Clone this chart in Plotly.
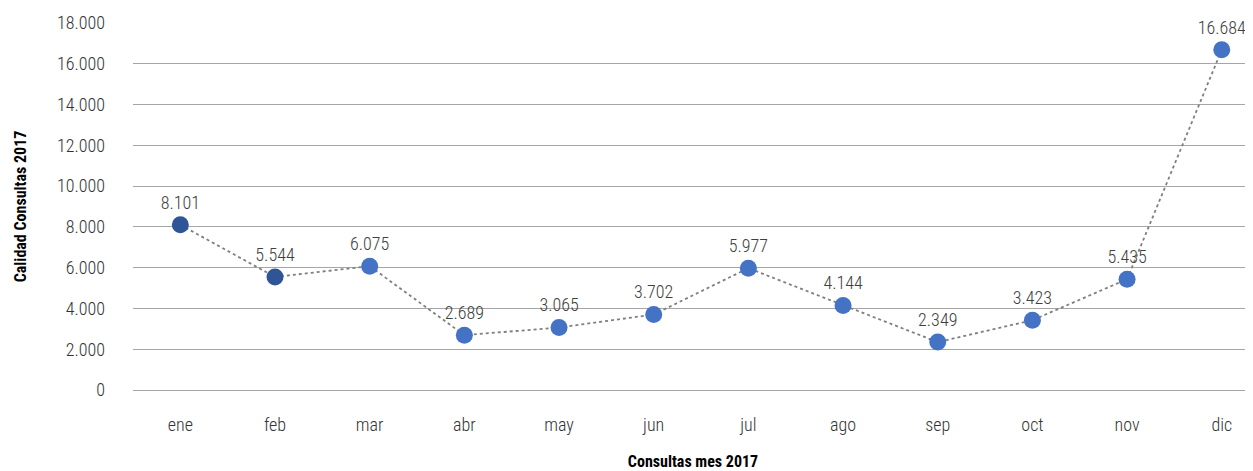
import plotly.graph_objects as go

months = ["ene", "feb", "mar", "abr", "may", "jun", "jul", "ago", "sep", "oct", "nov", "dic"]
values = [8101, 5544, 6075, 2689, 3065, 3702, 5977, 4144, 2349, 3423, 5435, 16684]
marker_colors = ["#2F5597", "#2F5597"] + ["#4472C4"] * 10
y_ticks = [0, 2000, 4000, 6000, 8000, 10000, 12000, 14000, 16000, 18000]

FONT = "Roboto Condensed, Liberation Sans Narrow, Arial Narrow, sans-serif"

def fmt(v):
    return f"{v:,}".replace(",", ".")

fig = go.Figure()
fig.add_trace(go.Scatter(
    x=months, y=values, mode="lines+markers+text",
    line=dict(color="#7f7f7f", width=1.8, dash="dot"),
    marker=dict(size=17, color=marker_colors),
    text=[fmt(v) for v in values], textposition="top center",
    textfont=dict(family=FONT, size=18, color="#404040", weight=300),
    cliponaxis=False, showlegend=False,
))

fig.update_layout(
    width=1245, height=463,
    margin=dict(l=125, r=0, t=15, b=81),
    paper_bgcolor="white", plot_bgcolor="white",
    separators=",.",
    font=dict(family=FONT, size=18, color="#333333"),
    xaxis=dict(
        range=[-0.5, 11.33], showgrid=False, showline=False, zeroline=False,
        ticks="", ticklabelstandoff=22,
        tickfont=dict(family=FONT, size=18, color="#333333", weight=300),
        title=dict(text="<b>Consultas mes 2017</b>", font=dict(family=FONT, size=16, color="black"), standoff=24),
    ),
    yaxis=dict(
        range=[0, 18000], tickvals=y_ticks, ticktext=[fmt(t) for t in y_ticks],
        showgrid=True, gridcolor="#a6a6a6", gridwidth=1.2, zeroline=True, zerolinecolor="#a6a6a6",
        zerolinewidth=1.2, ticks="", ticklabelstandoff=27,
        tickfont=dict(family=FONT, size=18, color="#333333", weight=300),
        title=dict(text="<b>Calidad Consultas 2017</b>", font=dict(family=FONT, size=16, color="black"), standoff=26),
    ),
)

fig.write_html("out.html")
